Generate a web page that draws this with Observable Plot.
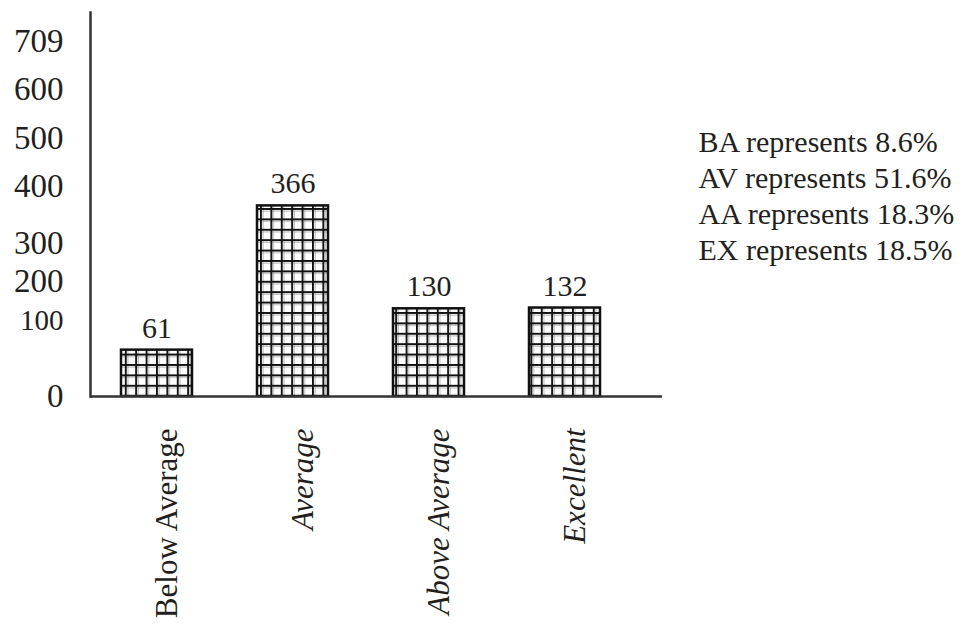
<!DOCTYPE html>
<html>
<head>
<meta charset="utf-8">
<script src="https://cdn.jsdelivr.net/npm/d3@7"></script>
<script src="https://cdn.jsdelivr.net/npm/@observablehq/plot@0.6"></script>
<style>
  html, body { margin: 0; padding: 0; background: #fff; }
</style>
</head>
<body>
<div id="chart"></div>
<script>
// ---- data ----
const categories = ["Below Average", "Average", "Above Average", "Excellent"];
const counts = [61, 366, 130, 132];
const abbreviations = ["BA", "AV", "AA", "EX"];
const percents = ["8.6", "51.6", "18.3", "18.5"];
const yTickValues = [0, 100, 200, 300, 400, 500, 600, 709];

const data = categories.map((c, i) => ({category: c, count: counts[i]}));
const legendText = abbreviations.map((a, i) => `${a} represents ${percents[i]}%`).join("\n");

const ink = "#231f20";

// The printed value axis spaces its ticks unevenly; this piecewise map follows
// the printed tick placement (heights above the baseline) and feeds the y scale.
const printedAxis = d3.scaleLinear()
  .domain(yTickValues)
  .range([0, 76, 115, 153, 210, 258, 307, 355]);

const chart = Plot.plot({
  width: 967,
  height: 625,
  marginLeft: 90,
  marginRight: 305,
  marginTop: 12,
  marginBottom: 229,
  style: {fontFamily: "'Liberation Serif', 'Times New Roman', serif", color: ink, background: "#fff"},
  x: {domain: categories, paddingInner: 0.48, paddingOuter: 0.33, align: 0.33, axis: null, label: null},
  y: {transform: v => printedAxis(v), insetTop: 29, axis: null, label: null},
  marks: [
    Plot.barY(data, {x: "category", y: "count", fill: "url(#grid)", stroke: "#111", strokeWidth: 2.5}),
    Plot.text(data, {x: "category", y: "count", text: d => String(d.count), dy: -22, fontSize: 30, fill: ink}),
    Plot.axisY(yTickValues, {tickSize: 0, tickPadding: 27, fontSize: 33, fill: ink, label: null}),
    Plot.frame({anchor: "left", stroke: "#333", strokeWidth: 2.5}),
    Plot.ruleY([0], {stroke: "#333", strokeWidth: 2.5}),
    Plot.text(categories, {filter: d => d === "Below Average", x: d => d, text: d => d, frameAnchor: "bottom",
      rotate: -90, textAnchor: "end", dx: 20, dy: 32, fontSize: 31, fill: ink}),
    Plot.text(categories, {filter: d => d !== "Below Average", x: d => d, text: d => d, frameAnchor: "bottom",
      rotate: -90, textAnchor: "end", dx: 20, dy: 32, fontSize: 31, fontStyle: "italic", fill: ink}),
    Plot.text([legendText], {text: d => d, frameAnchor: "right", textAnchor: "start", lineAnchor: "middle",
      dx: 36, dy: -10, lineHeight: 1.2, fontSize: 30, fill: ink})
  ]
});

document.getElementById("chart").appendChild(chart);

// cross-hatched grid pattern for the bars
const svg = d3.select(chart.tagName.toLowerCase() === "svg" ? chart : chart.querySelector("svg"));
const defs = svg.insert("defs", ":first-child");
const s = 10.4;
const pat = defs.append("pattern").attr("id", "grid").attr("patternUnits", "userSpaceOnUse")
  .attr("width", s).attr("height", s);
pat.append("rect").attr("width", s).attr("height", s).attr("fill", "#fff");
pat.append("path").attr("d", `M3.0,0V${s}M0,3.0H${s}`).attr("stroke", "#9a9a9a").attr("stroke-width", 0.8).attr("fill", "none");
pat.append("path").attr("d", `M0.9,0V${s}M0,0.9H${s}`).attr("stroke", "#111").attr("stroke-width", 1.9).attr("fill", "none");

// the "100" tick label is printed a little smaller
svg.selectAll("[aria-label='y-axis tick label'] text, g[aria-label^='y-axis'] text")
  .filter(function() { return this.textContent === "100"; })
  .attr("font-size", 29);
</script>
</body>
</html>
